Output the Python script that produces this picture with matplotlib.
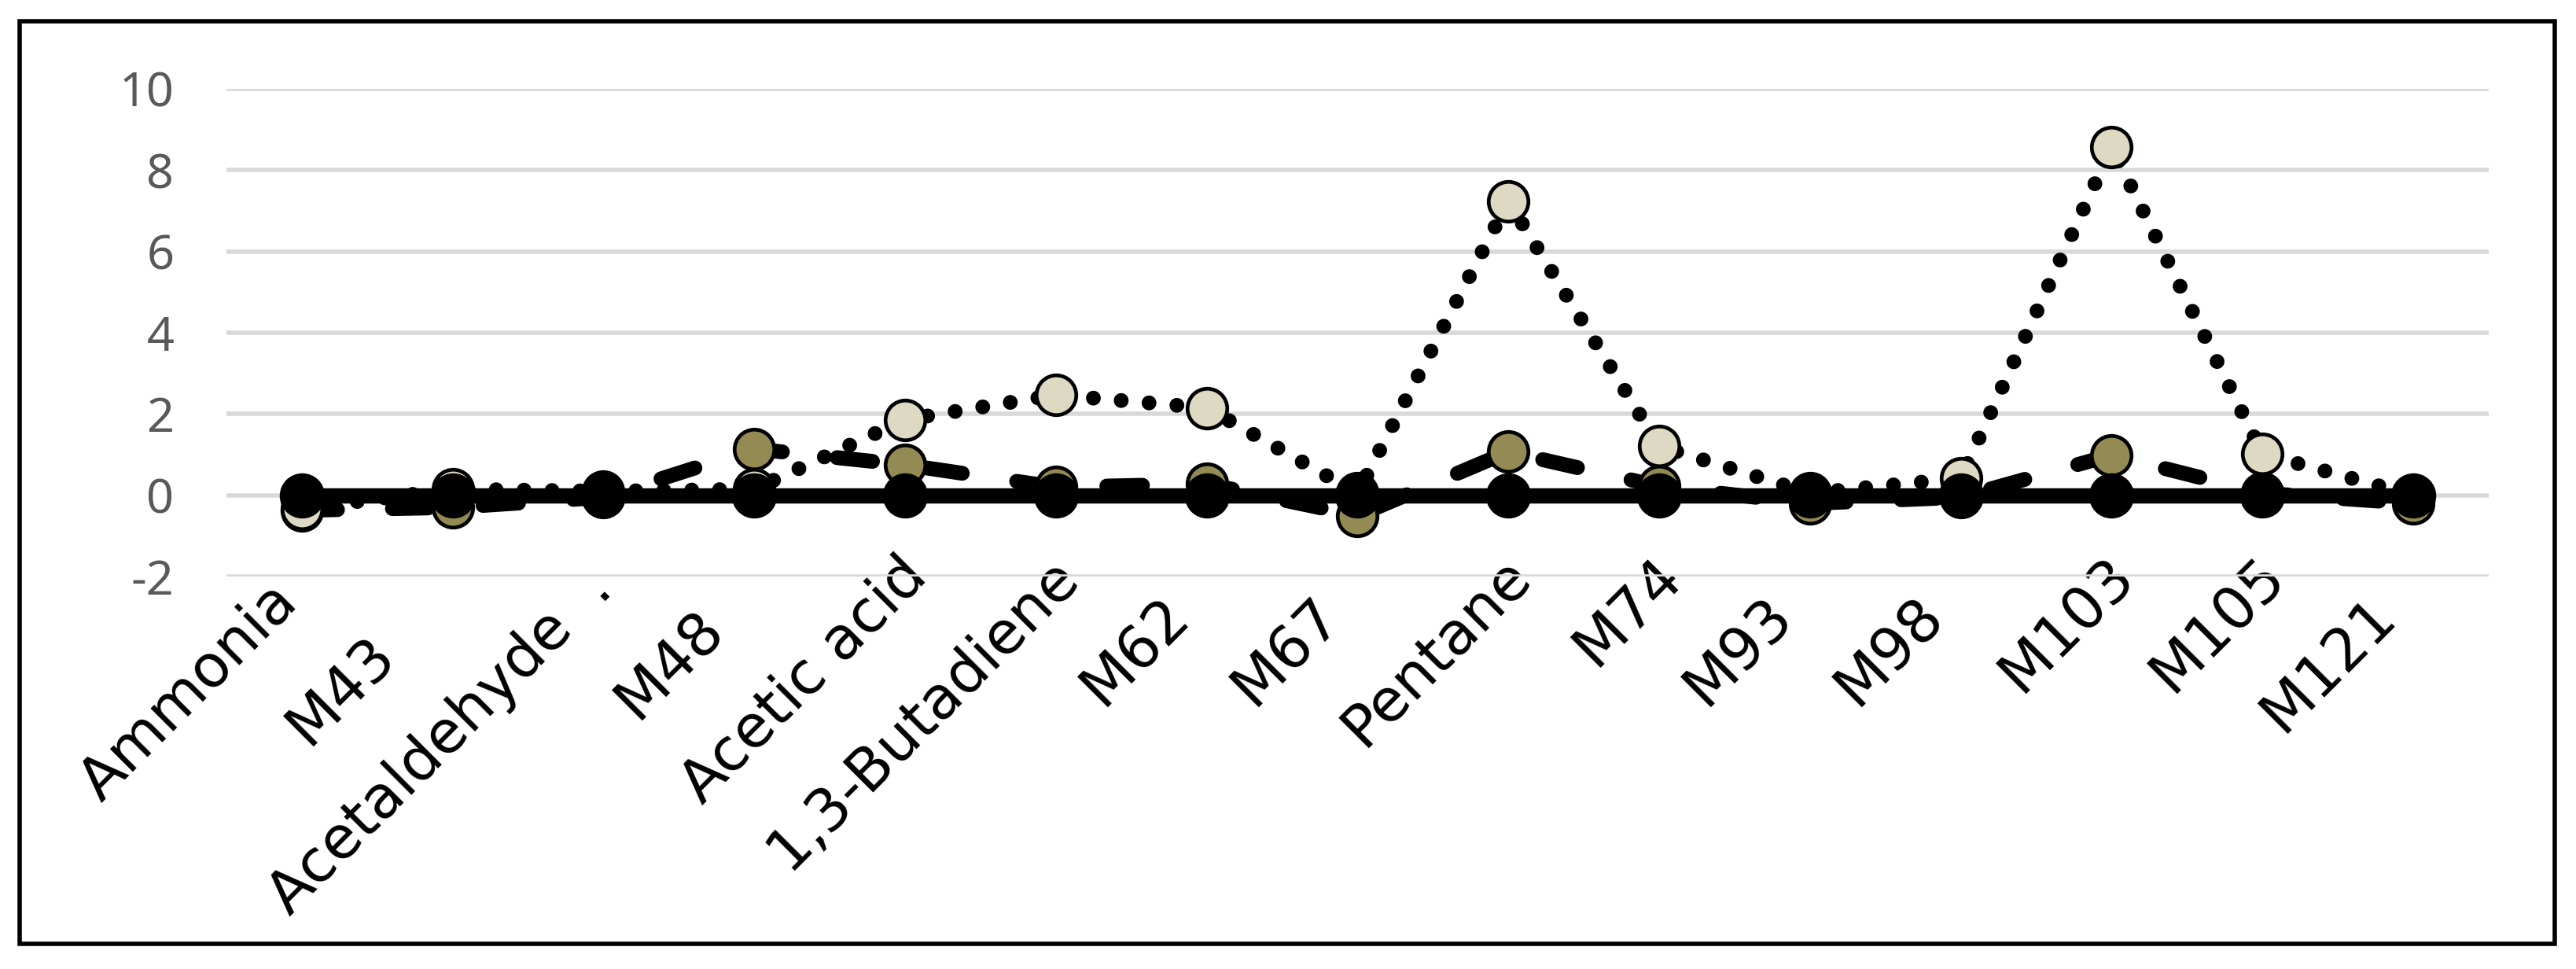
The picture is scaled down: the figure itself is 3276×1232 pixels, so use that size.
import matplotlib
matplotlib.use('Agg')
import matplotlib.pyplot as plt
from matplotlib.patches import Rectangle
from matplotlib.transforms import ScaledTranslation

# compounds on the category axis (trailing spaces kept as in the source labels)
categories = ['Ammonia  ', 'M43      ', 'Acetaldehyde  . ', 'M48    ', 'Acetic acid',
              '1,3-Butadiene', 'M62   ', 'M67   ', 'Pentane', 'M74', 'M93   ',
              'M98   ', 'M103', 'M105', 'M121   ']

# three series
light_vals = [-0.33, 0.15, 0.1, 0.15, 1.86, 2.47, 2.15, 0.05, 7.24, 1.21, 0.05, 0.42, 8.57, 1.02, 0.0]
olive_vals = [-0.37, -0.3, -0.05, 1.14, 0.75, 0.2, 0.28, -0.5, 1.07, 0.22, -0.2, -0.05, 0.99, 0.05, -0.2]
black_vals = [0.0, 0.0, 0.0, 0.0, 0.0, 0.0, 0.0, 0.0, 0.0, 0.0, 0.0, 0.0, 0.0, 0.0, 0.0]

y_ticks = [-2, 0, 2, 4, 6, 8, 10]

fig = plt.figure(figsize=(16.38, 6.16), dpi=200)
ax = fig.add_axes([0.0879, 0.405, 0.8782, 0.5033])

x = list(range(len(categories)))

# olive dashed series
ax.plot(x, olive_vals, color='black', lw=6.8, ls=(0, (2.4, 3.7)), dash_capstyle='round',
        marker='o', ms=18.2, mfc='#948A54', mec='black', mew=1.7, zorder=3, clip_on=False)
# light dotted series
ax.plot(x, light_vals, color='black', lw=6.8, ls=(0, (0.001, 1.88)), dash_capstyle='round',
        marker='o', ms=18.2, mfc='#DDD9C3', mec='black', mew=1.7, zorder=4, clip_on=False)
# black solid series
ax.plot(x, black_vals, color='black', lw=7.0, solid_capstyle='butt',
        marker='o', ms=19, mfc='black', mec='black', mew=1.7, zorder=5, clip_on=False)

ax.set_xlim(-0.5, len(categories) - 0.5)
ax.set_ylim(-2, 10)
ax.set_yticks(y_ticks)
ax.set_yticklabels([str(v) for v in y_ticks], fontsize=22, color='#595959', family='Noto Sans')
ax.tick_params(axis='y', length=0, pad=24)
ax.grid(axis='y', color='#D9D9D9', lw=2.0, zorder=0)
ax.set_axisbelow(True)
for s in ax.spines.values():
    s.set_visible(False)

ax.set_xticks(x)
ax.set_xticklabels([c.rstrip() for c in categories], fontsize=27, family='DejaVu Sans',
                   rotation=45, ha='right', va='top', rotation_mode='anchor')
ax.tick_params(axis='x', length=0, pad=0)

# matplotlib drops trailing spaces, so move those labels down the slope by hand
space_pt = 0.318 * 27
for lbl, c in zip(ax.get_xticklabels(), categories):
    n = len(c) - len(c.rstrip())
    d = n * space_pt * 0.7071
    dx = (-3.3 - d) / 72
    dy = (13.7 - d) / 72
    lbl.set_transform(lbl.get_transform() + ScaledTranslation(dx, dy, fig.dpi_scale_trans))

# outer frame of the chart
fig.patches.append(Rectangle((0.0076, 0.026), 0.9842, 0.952, transform=fig.transFigure,
                             fill=False, edgecolor='black', lw=2.0))

fig.savefig('out.png', dpi=200)
